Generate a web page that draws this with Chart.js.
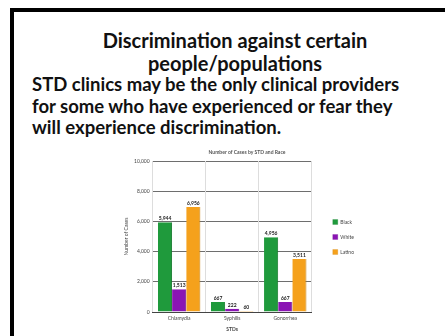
<!DOCTYPE html>
<html>
<head>
<meta charset="utf-8">
<script src="https://cdn.jsdelivr.net/npm/chart.js@4"></script>
<style>
  html, body { margin: 0; padding: 0; background: #fff; }
  body { width: 445px; height: 336px; position: relative; overflow: hidden; font-family: Lato, "Open Sans", sans-serif; }
  #frame { position: absolute; left: 10px; top: 8px; width: 460px; height: 360px; border: 4px solid #000; box-sizing: border-box; }
  .head { position: absolute; left: 35px; width: 400px; text-align: center; font-weight: bold; font-size: 20px; color: #111; line-height: 22px; }
  .body { position: absolute; left: 32px; font-weight: bold; font-size: 18.5px; color: #111; white-space: nowrap; line-height: 21px; }
  #chartBox { position: absolute; left: 119px; top: 146px; width: 256px; height: 190px; }
</style>
</head>
<body>
<div id="frame"></div>
<div class="head" style="top:29px">Discrimination against certain</div>
<div class="head" style="top:52px">people/populations</div>
<div class="body" style="top:74px">STD clinics may be the only clinical providers</div>
<div class="body" style="top:96px">for some who have experienced or fear they</div>
<div class="body" style="top:117px">will experience discrimination.</div>
<div id="chartBox"><canvas id="chart"></canvas></div>

<script>
// data (estimates, values are blurry)
const categories = ["Chlamydia", "Syphilis", "Gonorrhea"];
const seriesNames = ["Black", "White", "Latino"];
const blackVals  = [5944, 667, 4956];
const whiteVals  = [1513, 222, 667];
const latinoVals = [6956, 60, 3511];
const yTicks = [0, 2000, 4000, 6000, 8000, 10000];

const colors = ["#1f9a3c", "#8a14b4", "#f5a11c"];
const edges  = ["#157a2c", "#6a0a8c", "#c97f0c"];

// value labels on top of bars
const barLabels = {
  id: "barLabels",
  afterDatasetsDraw(chart) {
    const ctx = chart.ctx;
    ctx.save();
    ctx.font = "bold 5px Lato, sans-serif";
    ctx.fillStyle = "#222";
    ctx.textAlign = "center";
    ctx.textBaseline = "bottom";
    chart.data.datasets.forEach((ds, i) => {
      const meta = chart.getDatasetMeta(i);
      meta.data.forEach((bar, j) => {
        ctx.fillText(ds.data[j].toLocaleString("en-US"), bar.x, bar.y - 1);
      });
    });
    ctx.restore();
  }
};

// wider gap between plot and legend, legend items nudged right
const legendGap = {
  id: "legendGap",
  afterInit(chart) {
    const lg = chart.legend;
    if (!lg) return;
    const fit = lg.fit;
    lg.fit = function () {
      fit.call(this);
      this.width += 20;
    };
    const draw = lg.draw;
    lg.draw = function () {
      const c = this.ctx;
      c.save();
      c.translate(11, -3);
      draw.apply(this, arguments);
      c.restore();
    };
  }
};

const ctx = document.getElementById("chart").getContext("2d");
new Chart(ctx, {
  type: "bar",
  data: {
    labels: categories,
    datasets: [blackVals, whiteVals, latinoVals].map((vals, i) => ({
      label: seriesNames[i],
      data: vals,
      backgroundColor: colors[i],
      borderColor: edges[i],
      borderWidth: { right: 1 },
      barPercentage: 1.0,
      categoryPercentage: 0.8
    }))
  },
  options: {
    responsive: true,
    maintainAspectRatio: false,
    animation: false,
    layout: { padding: { left: 2, right: 2, top: 0, bottom: 2 } },
    plugins: {
      title: {
        display: true,
        text: "Number of Cases by STD and Race",
        font: { size: 5, family: "Lato" },
        color: "#555",
        padding: { top: 3, bottom: 6 }
      },
      legend: {
        position: "right",
        labels: { boxWidth: 5, boxHeight: 5, font: { size: 5, family: "Lato" }, color: "#444", padding: 10 }
      },
      tooltip: { enabled: false }
    },
    scales: {
      y: {
        min: 0,
        max: 10000,
        afterBuildTicks: (axis) => { axis.ticks = yTicks.map(v => ({ value: v })); },
        ticks: { font: { size: 5, family: "Lato" }, color: "#444", callback: (v) => v.toLocaleString("en-US") },
        grid: { color: "#6e6e6e", drawTicks: false },
        border: { display: false },
        title: { display: true, text: "Number of Cases", font: { size: 5, family: "Lato" }, color: "#444", padding: 2 }
      },
      x: {
        ticks: { font: { size: 5, family: "Lato" }, color: "#444" },
        grid: { offset: true, color: "#dddddd", drawTicks: false },
        border: { color: "#444" },
        title: { display: true, text: "STDs", font: { size: 5, family: "Lato", weight: "bold" }, color: "#444", padding: 2 }
      }
    }
  },
  plugins: [barLabels, legendGap]
});
</script>
</body>
</html>
